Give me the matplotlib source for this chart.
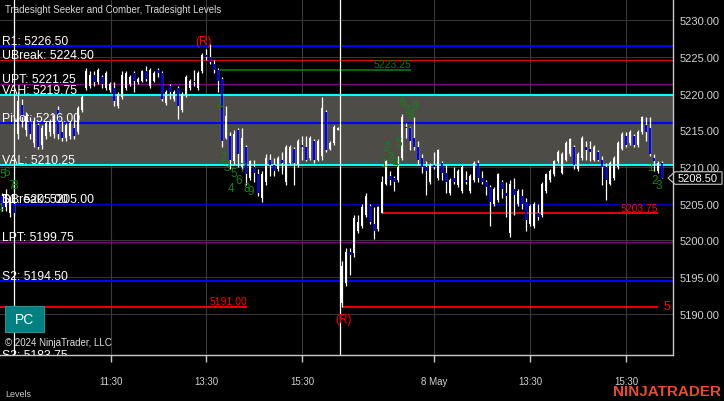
import matplotlib
matplotlib.use("Agg")
import numpy as np
import matplotlib.pyplot as plt
from matplotlib.patches import Rectangle, Polygon
from matplotlib.transforms import blended_transform_factory

plt.rcParams['font.family'] = ['Liberation Sans', 'DejaVu Sans']

# 5 minute bars: 4 from the prior session, then 7 May and 8 May (81 each)
opens = [
    5206.0, 5204.5, 5203.75, 5205.0,
    # 7 May
    5214.5, 5218.5, 5215.0, 5216.25, 5213.25, 5215.75, 5213.0, 5214.25, 5214.75, 5214.5,
    5217.75, 5214.75, 5214.0, 5214.25, 5215.25, 5214.75, 5217.75, 5220.75, 5221.0, 5222.5,
    5221.5, 5222.25, 5220.75, 5220.5,
    5220.75, 5218.25, 5219.5, 5220.75, 5221.25, 5222.75, 5221.5, 5221.75, 5223.0, 5221.0,
    5221.75, 5223.25,
    5222.75, 5218.75, 5221.0, 5219.25, 5220.75, 5217.75, 5219.75, 5220.75, 5221.75, 5220.75,
    5223.0, 5225.25, 5225.0, 5224.0, 5223.25, 5222.0, 5214.0,
    5214.25, 5210.75, 5215.0, 5210.0, 5212.75, 5208.5, 5210.0, 5209.0, 5205.75, 5208.0,
    5211.0, 5210.25, 5209.75, 5211.0, 5208.0, 5210.5, 5212.5, 5210.25, 5213.0, 5212.75,
    5211.25, 5213.5, 5211.0, 5211.5, 5217.5, 5212.5, 5213.25, 5215.0,
    # 8 May
    5191.5, 5194.25, 5198.5, 5198.25, 5201.25, 5202.0, 5203.5, 5204.75, 5202.25, 5201.5,
    5203.75, 5207.75, 5208.75, 5208.5, 5208.25, 5211.25, 5215.5, 5215.25, 5214.0, 5212.75,
    5211.25, 5210.0, 5208.0, 5210.25, 5208.5, 5210.5, 5209.25, 5206.5, 5208.5, 5207.5,
    5206.75, 5208.25, 5206.75, 5208.25, 5210.5, 5208.5, 5208.0, 5207.25, 5205.0, 5205.5,
    5208.0,
    5206.5, 5201.0, 5207.0, 5205.0, 5206.0, 5205.25, 5202.25, 5202.0, 5203.75, 5203.5,
    5206.75, 5208.25, 5209.0, 5210.75, 5209.25, 5211.0, 5211.75, 5212.75, 5209.75, 5211.25,
    5212.75, 5212.5, 5211.0, 5212.0, 5211.0, 5210.0, 5207.75, 5208.5, 5210.0, 5212.5,
    5214.25, 5213.25, 5214.25, 5213.0, 5214.75, 5215.75, 5215.25, 5211.25, 5209.5, 5210.5,
]
highs = [
    5206.5, 5207.0, 5206.0, 5205.5,
    5220.25, 5219.25, 5217.5, 5216.75, 5216.75, 5216.0, 5215.75, 5216.25, 5216.5, 5217.25,
    5218.25, 5216.25, 5216.0, 5216.25, 5216.5, 5218.25, 5219.75, 5223.5, 5223.0, 5223.0,
    5223.5, 5222.5, 5223.0, 5221.5,
    5221.5, 5220.25, 5223.0, 5223.0, 5222.5, 5223.0, 5222.25, 5223.25, 5223.75, 5223.5,
    5223.0, 5223.5,
    5223.0, 5220.5, 5221.25, 5220.5, 5221.0, 5220.25, 5222.5, 5222.0, 5223.25, 5223.0,
    5225.5, 5226.0, 5226.75, 5224.5, 5223.5, 5222.25, 5218.25,
    5214.75, 5215.0, 5215.25, 5215.25, 5213.0, 5211.0, 5211.0, 5209.75, 5209.5, 5211.75,
    5211.75, 5211.25, 5211.5, 5212.0, 5213.0, 5213.0, 5212.75, 5213.75, 5214.25, 5214.25,
    5214.25, 5213.75, 5213.75, 5219.5, 5217.75, 5213.5, 5215.75, 5215.5,
    5197.25, 5199.0, 5199.0, 5203.5, 5203.5, 5205.0, 5206.5, 5205.0, 5204.5, 5204.75,
    5208.75, 5211.0, 5209.5, 5208.75, 5211.5, 5217.25, 5216.0, 5215.5, 5216.75, 5213.5,
    5211.75, 5210.75, 5210.5, 5212.0, 5212.5, 5210.75, 5210.25, 5208.5, 5210.0, 5209.75,
    5210.25, 5209.5, 5209.0, 5210.75, 5211.0, 5209.5, 5208.25, 5207.5, 5207.25, 5209.25,
    5208.25,
    5208.0, 5208.25, 5208.5, 5207.0, 5207.0, 5205.75, 5205.0, 5205.25, 5205.0, 5208.0,
    5209.25, 5209.75, 5211.0, 5212.25, 5212.0, 5213.5, 5214.0, 5213.0, 5212.0, 5214.25,
    5213.5, 5213.5, 5213.0, 5212.25, 5211.5, 5210.5, 5210.75, 5211.5, 5213.5, 5214.75,
    5214.75, 5215.0, 5214.5, 5215.0, 5217.0, 5216.75, 5216.75, 5211.75, 5210.75, 5210.75,
]
lows = [
    5204.0, 5204.0, 5203.25, 5203.5,
    5213.75, 5215.5, 5214.25, 5213.75, 5212.75, 5212.5, 5212.5, 5213.75, 5214.25, 5214.0,
    5213.75, 5213.5, 5213.5, 5213.75, 5213.75, 5214.5, 5217.5, 5220.5, 5220.75, 5221.0,
    5221.25, 5220.75, 5220.5, 5220.25,
    5218.25, 5218.0, 5219.25, 5220.5, 5221.0, 5220.25, 5221.25, 5221.5, 5221.75, 5220.75,
    5221.5, 5222.25,
    5219.0, 5218.5, 5219.25, 5219.0, 5216.5, 5217.5, 5219.5, 5220.5, 5221.0, 5220.5,
    5222.75, 5224.5, 5224.0, 5222.75, 5220.25, 5212.75, 5213.75,
    5209.75, 5210.25, 5210.0, 5209.75, 5207.5, 5208.25, 5208.0, 5206.0, 5205.25, 5207.5,
    5208.75, 5208.75, 5209.5, 5209.0, 5207.5, 5210.25, 5207.5, 5210.0, 5211.0, 5210.75,
    5211.0, 5210.5, 5210.75, 5211.0, 5212.0, 5212.25, 5213.0, 5215.0,
    5191.0, 5193.75, 5195.25, 5197.75, 5201.0, 5201.75, 5203.25, 5202.25, 5200.25, 5201.25,
    5203.75, 5207.5, 5207.5, 5206.75, 5208.0, 5211.0, 5214.0, 5212.25, 5212.25, 5210.25,
    5209.25, 5206.25, 5207.75, 5209.75, 5208.25, 5208.25, 5206.5, 5206.25, 5207.75, 5207.25,
    5206.5, 5207.75, 5206.5, 5208.0, 5208.0, 5207.75, 5206.25, 5202.0, 5204.75, 5205.25,
    5205.75,
    5203.25, 5200.5, 5203.5, 5204.75, 5204.25, 5201.25, 5202.0, 5201.75, 5202.75, 5203.25,
    5206.5, 5208.0, 5208.75, 5210.5, 5209.0, 5210.75, 5211.5, 5209.75, 5209.5, 5211.0,
    5211.0, 5210.75, 5210.75, 5210.75, 5207.5, 5205.5, 5207.5, 5208.25, 5209.75, 5212.25,
    5212.75, 5213.0, 5212.75, 5212.75, 5214.5, 5213.5, 5211.5, 5209.5, 5209.25, 5208.5,
]
closes = [
    5204.5, 5206.25, 5205.5, 5203.75,
    5219.0, 5216.75, 5217.0, 5214.5, 5216.25, 5212.75, 5215.25, 5216.0, 5216.25, 5217.0,
    5214.5, 5214.0, 5215.75, 5216.0, 5214.25, 5218.0, 5219.5, 5223.0, 5222.5, 5221.5,
    5223.25, 5221.25, 5222.75, 5221.25,
    5219.0, 5220.0, 5222.5, 5222.75, 5222.25, 5221.75, 5222.0, 5223.0, 5222.0, 5223.25,
    5222.75, 5222.75,
    5219.25, 5220.25, 5220.25, 5220.25, 5218.25, 5220.0, 5222.25, 5221.75, 5221.5, 5222.75,
    5225.25, 5225.0, 5224.25, 5223.25, 5221.75, 5213.5, 5217.0,
    5211.0, 5214.5, 5211.75, 5214.0, 5209.0, 5210.75, 5209.25, 5206.5, 5209.0, 5211.25,
    5210.25, 5209.5, 5211.25, 5210.5, 5212.75, 5212.75, 5210.5, 5213.5, 5212.75, 5211.0,
    5214.0, 5211.0, 5213.5, 5218.0, 5212.25, 5213.25, 5215.5, 5215.25,
    5196.5, 5198.5, 5198.0, 5203.0, 5202.5, 5204.5, 5206.0, 5202.5, 5201.25, 5204.5,
    5208.0, 5210.75, 5208.25, 5208.0, 5211.25, 5216.75, 5215.25, 5213.5, 5212.75, 5211.0,
    5210.0, 5209.5, 5210.25, 5210.0, 5212.25, 5209.25, 5208.0, 5208.25, 5208.0, 5209.5,
    5210.0, 5208.0, 5208.75, 5210.5, 5208.5, 5208.0, 5207.25, 5205.25, 5207.0, 5209.0,
    5207.0,
    5206.0, 5207.75, 5206.25, 5206.75, 5205.0, 5202.75, 5204.75, 5205.0, 5203.25, 5207.75,
    5209.0, 5209.5, 5210.75, 5212.0, 5211.75, 5213.25, 5213.75, 5210.25, 5211.75, 5214.0,
    5212.25, 5212.0, 5212.75, 5211.0, 5210.0, 5208.25, 5210.5, 5211.25, 5213.25, 5214.5,
    5213.0, 5214.75, 5213.0, 5214.75, 5216.75, 5214.75, 5211.75, 5210.75, 5210.5, 5208.5,
]

# Tradesight level lines
level_names = ["R1", "UBreak", "UPT", "VAH", "Pivot", "VAL", "S1", "DBreak", "LPT", "S2", "S3"]
level_values = [5226.50, 5224.50, 5221.25, 5219.75, 5216.00, 5210.25, 5205.00, 5205.00, 5199.75, 5194.50, 5183.75]
level_colors = ["#0000ff", "#e00000", "#800080", "#00ffff", "#0000ff", "#00ffff",
                "#0000c0", "#0000c0", "#800080", "#0000ff", "#0000ff"]
level_widths = [1.5, 0.9, 0.9, 1.5, 1.5, 1.5, 0.9, 0.9, 0.9, 1.5, 1.5]

# seeker / comber counts (bar position, price, digit)
count_pos = [-0.5, 0.25, 1.25, 2.5, 3.25,
             54.25, 55.25, 56.25, 57.25, 58.0, 59.25, 60.25, 61.25, 62.25,
             95.25, 96.25, 97.25, 98.5, 99.25, 100.25, 101.25, 102.25, 103.25,
             162.0, 163.25, 164.25]
count_price = [5204.4, 5209.05, 5209.3, 5207.55, 5207.55,
               5218.75, 5211.35, 5210.0, 5207.15, 5209.2, 5208.25, 5209.85, 5207.15, 5206.75,
               5210.55, 5212.7, 5211.35, 5210.55, 5213.25, 5218.85, 5217.75, 5217.1, 5218.3,
               5210.0, 5208.25, 5207.55]
count_text = ["4", "5", "6", "7", "8",
              "1", "2", "3", "4", "5", "6", "7", "8", "9",
              "1", "2", "3", "4", "5", "6", "7", "8", "9",
              "1", "2", "3"]

tick_pos = [27.25, 51, 75, 108, 132, 156]
tick_labels = ["11:30", "13:30", "15:30", "8 May", "13:30", "15:30"]
session_breaks = [3.1, 84.5]
last_price = 5208.50

W, H = 724, 402
fig = plt.figure(figsize=(W / 100, H / 100), dpi=100, facecolor="black")
ax = fig.add_axes([0, 1 - 356 / H, 673 / W, 356 / H])
ax.set_facecolor("black")
ax.set_xlim(-0.5, 167.75)
ax.set_ylim(5184.42, 5232.86)

# grid
for p in range(5190, 5231, 5):
    ax.axhline(p, color="#343434", lw=0.8, zorder=0)
for t in tick_pos:
    ax.axvline(t, color="#3a3a3a", lw=0.8, zorder=0)

# value area band
ax.axhspan(level_values[5], level_values[3], color="#4e4c47", lw=0, zorder=0.5)

ytr = ax.get_yaxis_transform()
for name, val, col, lw in zip(level_names, level_values, level_colors, level_widths):
    ax.axhline(val, color=col, lw=lw, zorder=1)
    ax.text(0.003, val + 0.28, f"{name}: {val:.2f}", transform=ytr, color="white",
            fontsize=8.8, va="baseline", ha="left", zorder=5, clip_on=True)

# short ray lines with price tags
ax.hlines(5191.00, -0.5, 61.25, color="#ff0000", lw=1.3, zorder=1)
ax.text(61.25, 5191.3, "5191.00", color="#ff0000", fontsize=7.5, ha="right", va="baseline")
ax.hlines(5191.00, 85, 164, color="#ff0000", lw=1.3, zorder=1)
ax.text(166.2, 5191.1, "5", color="#ff0000", fontsize=9, ha="center", va="center")
ax.hlines(5203.75, 95.25, 164, color="#ff0000", lw=1.3, zorder=1)
ax.text(164, 5204.05, "5203.75", color="#ff0000", fontsize=7.5, ha="right", va="baseline")
ax.hlines(5223.25, 54.5, 102.25, color="#008000", lw=1.2, zorder=1)
ax.text(102.25, 5223.55, "5223.25", color="#008000", fontsize=7.5, ha="right", va="baseline")

# session breaks
for s in session_breaks:
    ax.axvline(s, color="white", lw=0.9, zorder=2)

# candles
o = np.array(opens)
hi = np.array(highs)
lo = np.array(lows)
c = np.array(closes)
x = np.arange(len(o))
up = c >= o
ax.vlines(x, lo, hi, color="white", lw=0.9, zorder=3)
body_col = np.where(up, "white", "#0000ff")
ax.bar(x, np.maximum(np.abs(c - o), 0.15), bottom=np.minimum(o, c), width=0.7,
       color=body_col, linewidth=0, zorder=4)

# counts and reversal marks
for px, pp, t in zip(count_pos, count_price, count_text):
    ax.text(px, pp, t, color="#128412", fontsize=8.5, ha="center", va="center", zorder=5)
ax.text(50.25, 5227.15, "(R)", color="#ff0000", fontsize=8.5, ha="center", va="center", zorder=5)
ax.text(85.25, 5189.3, "(R)", color="#ff0000", fontsize=8.5, ha="center", va="center", zorder=5)

# axes styling
for side in ["top", "left"]:
    ax.spines[side].set_visible(False)
for side in ["right", "bottom"]:
    ax.spines[side].set_color("#c8c8c8")
    ax.spines[side].set_linewidth(1)
ax.yaxis.tick_right()
ax.set_yticks(range(5190, 5231, 5))
ax.set_yticklabels([f"{v:.2f}" for v in range(5190, 5231, 5)])
ax.tick_params(axis="y", length=0, pad=5, labelsize=8, labelcolor="#d2d2d2")
ax.set_xticks(tick_pos)
ax.set_xticklabels(tick_labels)
ax.tick_params(axis="x", length=5, width=1, color="#c8c8c8", pad=10, labelsize=7,
               labelcolor="#d2d2d2")

# last price marker
tr = blended_transform_factory(fig.transFigure, ax.transData)
mk = Polygon([(668 / W, last_price), (675 / W, last_price + 0.85), (722 / W, last_price + 0.85),
              (722 / W, last_price - 0.85), (675 / W, last_price - 0.85)], closed=True,
             transform=tr, facecolor="black", edgecolor="#c8c8c8", lw=0.8, clip_on=False)
ax.add_artist(mk)
ax.text(698 / W, last_price, f"{last_price:.2f}", transform=tr, color="white", fontsize=8,
        ha="center", va="center", clip_on=False)

# overlay texts
fig.text(5 / W, 1 - 10 / H, "Tradesight Seeker and Comber, Tradesight Levels",
         color="#d8d8d8", fontsize=7, va="center", ha="left")
fig.patches.append(Rectangle((5 / W, 1 - 333 / H), 39 / W, 26 / H, transform=fig.transFigure,
                             facecolor="#008080", edgecolor="#2f8f8f", lw=0.8))
fig.text(24.5 / W, 1 - 320 / H, "PC", color="white", fontsize=10, ha="center", va="center")
fig.text(5 / W, 1 - 343 / H, "\u00a9 2024 NinjaTrader, LLC", color="#e0e0e0", fontsize=7,
         ha="left", va="center")
fig.text(5 / W, 1 - 395 / H, "Levels", color="#c8c8c8", fontsize=6.5, ha="left", va="center")
fig.text(721 / W, 1 - 392 / H, "NINJATRADER", color="#ea4b2a", fontsize=11,
         fontweight="bold", ha="right", va="center")

fig.savefig("out.png", dpi=100, facecolor="black")
